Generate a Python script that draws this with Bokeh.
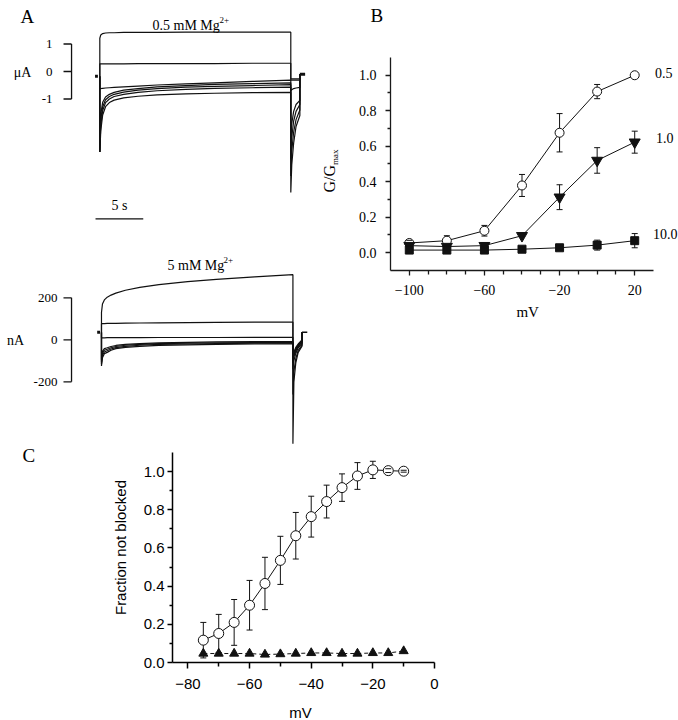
import math
from bokeh.plotting import figure
from bokeh.layouts import column, row
from bokeh.models import Range1d, Label, FixedTicker, PrintfTickFormatter
from bokeh.embed import file_html
from bokeh.resources import INLINE

SERIF = "Liberation Serif"
SANS = "Liberation Sans"
INK = "#111111"

# ---------------- Panel A data (current traces) ----------------
# 0.5 mM Mg2+ (uA)
A1_T = [0, 0.1, 0.3, 0.6, 1.0, 1.5, 2.5, 4, 6, 9, 12, 16, 20]
A1_TRACES = [
    [1.21, 1.33, 1.38, 1.40, 1.41, 1.41, 1.42, 1.42, 1.42, 1.43, 1.43, 1.43, 1.43],
    [0.28, 0.28, 0.28, 0.28, 0.28, 0.28, 0.28, 0.29, 0.29, 0.29, 0.29, 0.30, 0.30],
    [-0.63, -0.62, -0.61, -0.60, -0.59, -0.58, -0.56, -0.53, -0.49, -0.45, -0.41, -0.36, -0.31],
    [-2.93, -1.55, -1.12, -0.93, -0.83, -0.76, -0.68, -0.62, -0.56, -0.51, -0.47, -0.44, -0.41],
    [-2.93, -1.75, -1.28, -1.03, -0.91, -0.83, -0.75, -0.68, -0.62, -0.57, -0.54, -0.51, -0.48],
    [-2.93, -1.95, -1.42, -1.13, -1.00, -0.91, -0.83, -0.76, -0.70, -0.65, -0.61, -0.59, -0.57],
    [-2.93, -2.15, -1.58, -1.28, -1.13, -1.04, -0.96, -0.90, -0.85, -0.81, -0.79, -0.77, -0.76],
]
A1_TAIL_T = [20, 20.1, 20.3, 20.55, 20.95]
A1_TAILS = [
    [-0.27, -0.27, -0.27, -0.27, -0.27],
    [-0.31, -0.31, -0.31, -0.31, -0.31],
    [-0.70, -0.66, -0.62, -0.60, -0.58],
    [-2.6, -1.9, -1.45, -1.2, -1.05],
    [-3.2, -2.4, -1.8, -1.45, -1.2],
    [-3.8, -2.9, -2.2, -1.75, -1.4],
    [-4.4, -3.4, -2.6, -2.0, -1.6],
]
A1_HOLD = -0.17
A1_END_HOLD = -0.10
A1_SCALE = [1, 0, -1]
A1_SCALE_LABELS = ["1", "0", "-1"]

# 5 mM Mg2+ (nA)
A2_T = [0, 0.1, 0.3, 0.6, 1.0, 1.5, 2.5, 4, 6, 9, 12, 16, 20]
A2_TRACES = [
    [130, 170, 190, 203, 213, 222, 236, 250, 263, 277, 288, 300, 310],
    [76, 77, 77, 78, 78, 78, 79, 80, 81, 82, 83, 84, 84],
    [9, 9, 9, 10, 10, 10, 10, 10, 11, 11, 11, 12, 12],
    [-95, -55, -42, -38, -32, -27, -22, -18, -15, -12, -10, -9, -8],
    [-105, -65, -50, -45, -38, -32, -26, -22, -18, -16, -14, -13, -12],
    [-115, -75, -58, -52, -44, -37, -31, -26, -22, -20, -18, -16, -15],
    [-125, -85, -66, -60, -50, -42, -36, -31, -27, -24, -22, -20, -19],
]
A2_TAIL_T = [20, 20.1, 20.3, 20.55, 20.95]
A2_TAILS = [
    [-495, -200, -110, -60, -30],
    [-260, -150, -90, -50, -25],
    [-140, -100, -65, -38, -18],
    [-110, -80, -55, -32, -12],
    [-100, -72, -48, -28, -8],
    [-90, -65, -42, -24, -4],
    [-80, -58, -36, -20, 0],
]
A2_HOLD = 36
A2_END_HOLD = 36
A2_SCALE = [200, 0, -200]
A2_SCALE_LABELS = ["200", "0", "-200"]
TIME_BAR_S = 5

# ---------------- Panel B data ----------------
VB = [-100, -80, -60, -40, -20, 0, 20]
G_05 = [0.055, 0.068, 0.124, 0.379, 0.676, 0.908, 1.0]
G_05_ERR = [0.015, 0.028, 0.03, 0.062, 0.108, 0.04, 0.0]
G_10 = [0.04, 0.035, 0.04, 0.096, 0.313, 0.52, 0.623]
G_10_ERR = [0.0, 0.0, 0.015, 0.0, 0.07, 0.072, 0.062]
G_100 = [0.015, 0.015, 0.015, 0.02, 0.028, 0.043, 0.068]
G_100_ERR = [0.0, 0.0, 0.0, 0.0, 0.0, 0.028, 0.04]
B_SERIES_NAMES = ["0.5", "1.0", "10.0"]

# ---------------- Panel C data ----------------
VC = [-75, -70, -65, -60, -55, -50, -45, -40, -35, -30, -25, -20, -15, -10]
FNB_OPEN = [0.117, 0.152, 0.21, 0.30, 0.414, 0.535, 0.664, 0.764, 0.843, 0.916, 0.977, 1.009, 1.005, 1.002]
FNB_OPEN_ERR = [0.093, 0.10, 0.12, 0.13, 0.137, 0.126, 0.122, 0.107, 0.086, 0.072, 0.07, 0.045, 0.01, 0.005]
FNB_TRI = [0.047, 0.047, 0.047, 0.047, 0.042, 0.044, 0.047, 0.05, 0.05, 0.047, 0.047, 0.05, 0.05, 0.06]


def bare_fig(w, h, xr, yr):
    p = figure(width=w, height=h, x_range=Range1d(*xr), y_range=Range1d(*yr),
               x_axis_type=None, y_axis_type=None, output_backend="svg",
               toolbar_location=None, min_border=0, outline_line_color=None)
    p.grid.visible = False
    p.background_fill_color = "white"
    p.border_fill_color = "white"
    return p


def draw_traces(p, T, traces, tail_t, tails, hold, end_hold):
    xs, ys = [], []
    for tr, tl in zip(traces, tails):
        xs.append([0] + T + tail_t + [tail_t[-1]])
        ys.append([hold] + tr + tl + [end_hold])
    p.multi_line(xs, ys, line_color=INK, line_width=1.2)


def txt(p, x, y, s, size, align="left", baseline="middle", font=SERIF, angle=0):
    p.add_layout(Label(x=x, y=y, text=s, text_font=font, text_font_size=size,
                       text_align=align, text_baseline=baseline, angle=angle,
                       text_color="black"))


# ---------------- A top ----------------
fA1 = bare_fig(322, 228, (-10.40, 23.32), (-5.709, 2.582))
draw_traces(fA1, A1_T, A1_TRACES, A1_TAIL_T, A1_TAILS, A1_HOLD, A1_END_HOLD)
fA1.segment(x0=[-0.5], y0=[A1_HOLD], x1=[-0.2], y1=[A1_HOLD], line_color=INK, line_width=3)
fA1.segment(x0=[20.95], y0=[A1_END_HOLD], x1=[21.5], y1=[A1_END_HOLD], line_color=INK, line_width=3)
bx = -2.96
fA1.segment(x0=[bx], y0=[min(A1_SCALE)], x1=[bx], y1=[max(A1_SCALE)], line_color=INK, line_width=1.3)
fA1.segment(x0=[bx - 0.84] * 3, y0=A1_SCALE, x1=[bx] * 3, y1=A1_SCALE, line_color=INK, line_width=1.3)
for v, s in zip(A1_SCALE, A1_SCALE_LABELS):
    txt(fA1, -4.95, v, s, "13px", align="right")
txt(fA1, -8.09, -0.04, "\u03bcA", "14px", align="center")
txt(fA1, -8.30, 2.40, "A", "19px", baseline="top")
txt(fA1, 5.52, 1.673, "0.5 mM Mg", "14px", baseline="alphabetic")
txt(fA1, 12.53, 1.873, "2+", "9px", baseline="alphabetic")
# time scale bar
fA1.segment(x0=[-0.45], y0=[-5.356], x1=[-0.45 + TIME_BAR_S], y1=[-5.356], line_color=INK, line_width=1.3)
txt(fA1, -0.45 + TIME_BAR_S / 2, -4.87, "5 s", "14px", align="center")

# ---------------- A bottom ----------------
fA2 = bare_fig(322, 216, (-10.55, 23.09), (-498.6, 530))
draw_traces(fA2, A2_T, A2_TRACES, A2_TAIL_T, A2_TAILS, A2_HOLD, A2_END_HOLD)
fA2.segment(x0=[-0.45], y0=[A2_HOLD], x1=[-0.15], y1=[A2_HOLD], line_color=INK, line_width=3)
fA2.segment(x0=[20.95], y0=[A2_END_HOLD], x1=[21.5], y1=[A2_END_HOLD], line_color=INK, line_width=1.5)
bx2 = -3.13
fA2.segment(x0=[bx2], y0=[min(A2_SCALE)], x1=[bx2], y1=[max(A2_SCALE)], line_color=INK, line_width=1.3)
fA2.segment(x0=[bx2 - 0.84] * 3, y0=A2_SCALE, x1=[bx2] * 3, y1=A2_SCALE, line_color=INK, line_width=1.3)
for v, s in zip(A2_SCALE, A2_SCALE_LABELS):
    txt(fA2, -4.6, v, s, "13px", align="right")
txt(fA2, -8.99, -3, "nA", "14px", align="center")
txt(fA2, 6.9, 353.8, "5 mM Mg", "14px", baseline="alphabetic")
txt(fA2, 12.75, 382, "2+", "9px", baseline="alphabetic")


def style_axis(ax, font, size, width=1.5, color="#1a1a1a"):
    ax.axis_line_color = color
    ax.axis_line_width = width
    ax.major_tick_line_color = color
    ax.minor_tick_line_color = color
    ax.major_tick_line_width = width
    ax.minor_tick_line_width = width
    ax.major_tick_in = 0
    ax.minor_tick_in = 0
    ax.major_label_text_font = font
    ax.major_label_text_font_size = size
    ax.major_label_text_color = "black"


def errbars(p, xs, ys, errs):
    x = [a for a, e in zip(xs, errs) if e > 0]
    lo = [b - e for b, e in zip(ys, errs) if e > 0]
    hi = [b + e for b, e in zip(ys, errs) if e > 0]
    p.segment(x0=x, y0=lo, x1=x, y1=hi, line_color=INK, line_width=1)
    return x, lo, hi


def caps(p, x, lo, hi, cap=6):
    p.scatter(x + x, lo + hi, marker="dash", size=cap, line_color=INK, line_width=1)


# ---------------- B ----------------
B_X0, B_X1, B_Y0, B_Y1 = -110, 30, -0.1, 1.1
fB = figure(width=356, height=444, x_range=Range1d(-146.20, 43.31), y_range=Range1d(-1.0803, 1.4211),
            min_border=0, output_backend="svg", toolbar_location=None, outline_line_color=None)
fB.grid.visible = False
fB.border_fill_color = "white"
fB.background_fill_color = "white"
for ax in (fB.xaxis[0], fB.yaxis[0]):
    style_axis(ax, SERIF, "14px", width=1.3)
fB.xaxis.fixed_location = B_Y0
fB.xaxis.bounds = (B_X0, B_X1)
fB.yaxis.fixed_location = B_X0
fB.yaxis.bounds = (B_Y0, B_Y1)
fB.xaxis.ticker = FixedTicker(ticks=[-100, -60, -20, 20],
                              minor_ticks=[-90, -80, -70, -50, -40, -30, -10, 0, 10])
fB.yaxis.ticker = FixedTicker(ticks=[0, 0.2, 0.4, 0.6, 0.8, 1.0],
                              minor_ticks=[0.1, 0.3, 0.5, 0.7, 0.9])
fB.yaxis.formatter = PrintfTickFormatter(format="%.1f")
fB.xaxis.major_tick_out = 5
fB.xaxis.minor_tick_out = 4
fB.yaxis.major_tick_out = 5
fB.yaxis.minor_tick_out = 3
fB.xaxis.major_label_standoff = 10
fB.yaxis.major_label_standoff = 9

capsB = []
for ys, es in [(G_05, G_05_ERR), (G_10, G_10_ERR), (G_100, G_100_ERR)]:
    capsB.append(errbars(fB, VB, ys, es))
for ys in [G_05, G_10, G_100]:
    fB.line(VB, ys, line_color=INK, line_width=1)
fB.scatter(VB, G_05, marker="circle", size=9, fill_color="white", line_color=INK, line_width=1)
fB.scatter(VB, G_10, marker="inverted_triangle", size=11, fill_color=INK, line_color=INK)
fB.scatter(VB, G_100, marker="square", size=8, fill_color=INK, line_color=INK)
for c in capsB:
    caps(fB, *c, cap=6)
txt(fB, 30.8, 1.01, B_SERIES_NAMES[0], "14px")
txt(fB, 31.3, 0.649, B_SERIES_NAMES[1], "14px")
txt(fB, 29.8, 0.108, B_SERIES_NAMES[2], "14px")
txt(fB, -120.6, 1.393, "B", "19px", baseline="top")
txt(fB, -142.5, 0.339, "G/G", "16px", angle=math.pi / 2)
txt(fB, -139.8, 0.495, "max", "9px", angle=math.pi / 2)
txt(fB, (B_X0 + B_X1) / 2 + 3, -0.335, "mV", "15px", align="center")

# ---------------- C ----------------
C_X0, C_X1, C_Y0, C_Y1 = -85, 0, 0, 1.1
fC = figure(width=678, height=276, x_range=Range1d(-140.80, 79.16), y_range=Range1d(-0.3038, 1.1419),
            min_border=0, output_backend="svg", toolbar_location=None, outline_line_color=None)
fC.grid.visible = False
fC.border_fill_color = "white"
fC.background_fill_color = "white"
style_axis(fC.xaxis[0], SANS, "15px", width=1.5, color="#000000")
style_axis(fC.yaxis[0], SANS, "15px", width=1.5, color="#000000")
fC.xaxis.fixed_location = C_Y0
fC.xaxis.bounds = (C_X0, C_X1)
fC.yaxis.fixed_location = C_X0
fC.yaxis.bounds = (C_Y0, C_Y1)
fC.xaxis.ticker = FixedTicker(ticks=[-80, -60, -40, -20, 0], minor_ticks=[-70, -50, -30, -10])
fC.yaxis.ticker = FixedTicker(ticks=[0, 0.2, 0.4, 0.6, 0.8, 1.0],
                              minor_ticks=[0.1, 0.3, 0.5, 0.7, 0.9])
fC.yaxis.formatter = PrintfTickFormatter(format="%.1f")
fC.xaxis.major_tick_out = 6
fC.xaxis.minor_tick_out = 4
fC.yaxis.major_tick_out = 5
fC.yaxis.minor_tick_out = 3
fC.xaxis.major_label_standoff = 10
fC.yaxis.major_label_standoff = 3

cC = errbars(fC, VC, FNB_OPEN, FNB_OPEN_ERR)
fC.line(VC, FNB_OPEN, line_color=INK, line_width=1)
fC.line(VC, FNB_TRI, line_color=INK, line_width=1, line_dash="4 3")
fC.scatter(VC, FNB_OPEN, marker="circle", size=10, fill_color="white", line_color=INK, line_width=1)
fC.scatter(VC, FNB_TRI, marker="triangle", size=9, fill_color=INK, line_color=INK)
caps(fC, *cC, cap=6)
txt(fC, -133.66, 1.138, "C", "19px", baseline="top")
txt(fC, -101.87, 0.6024, "Fraction not blocked", "15px", align="center", font=SANS, angle=math.pi / 2)
txt(fC, -43.47, -0.262, "mV", "15px", align="center", font=SANS)

layout = column(row(column(fA1, fA2), fB), fC)
open("out.html", "w").write(file_html(layout, INLINE))
